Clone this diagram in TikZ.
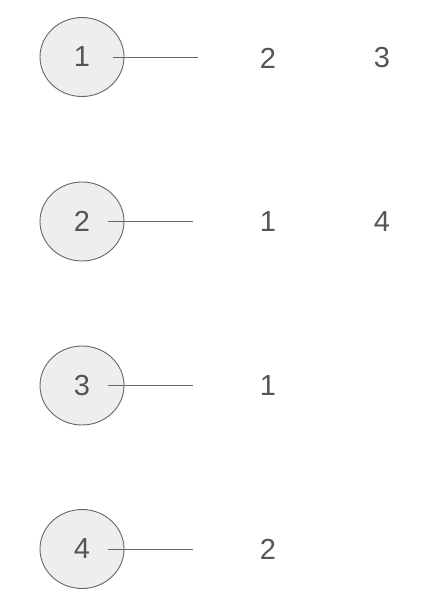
\documentclass[tikz,border=0pt]{standalone}
\usepackage{fontspec}
\setmainfont{Liberation Sans}
\usetikzlibrary{positioning,shapes.geometric}
\definecolor{vtxfill}{HTML}{EEEEEE}
\definecolor{vtxline}{HTML}{666666}
\definecolor{numtext}{HTML}{555555}
\tikzset{
	vertex/.style={ellipse, draw=vtxline, fill=vtxfill, line width=0.9pt, minimum width=84pt, minimum height=79pt, inner sep=0pt, text=numtext, font=\fontsize{29}{32}\selectfont},
	entry/.style={text=numtext, font=\fontsize{29}{32}\selectfont},
	edge/.style={draw=vtxline, line width=0.9pt}
}

\begin{document}
\begin{tikzpicture}[x=1pt, y=-1pt]
	\useasboundingbox (0,0) rectangle (446,608);
	%% vertex 1
	\node[vertex] (v1) at (82,57) {1};
	\coordinate (e1) at (198,57);
	\draw[edge] ([xshift=31pt]v1.center) -- (e1);
	\node[entry] (a12) at (268,58) {2};
	\node[entry] (a13) at (382,58) {3};
	%% vertex 2
	\node[vertex] (v2) at (82,221.5) {2};
	\coordinate (e2) at (193,221.5);
	\draw[edge] ([xshift=26pt]v2.center) -- (e2);
	\node[entry] (a21) at (268,222) {1};
	\node[entry] (a24) at (382,222) {4};
	%% vertex 3
	\node[vertex] (v3) at (82,385.5) {3};
	\coordinate (e3) at (193,385.5);
	\draw[edge] ([xshift=26pt]v3.center) -- (e3);
	\node[entry] (a31) at (268,386) {1};
	%% vertex 4
	\node[vertex] (v4) at (82,549) {4};
	\coordinate (e4) at (193,549);
	\draw[edge] ([xshift=26pt]v4.center) -- (e4);
	\node[entry] (a42) at (268,549.5) {2};
\end{tikzpicture}
\end{document}
